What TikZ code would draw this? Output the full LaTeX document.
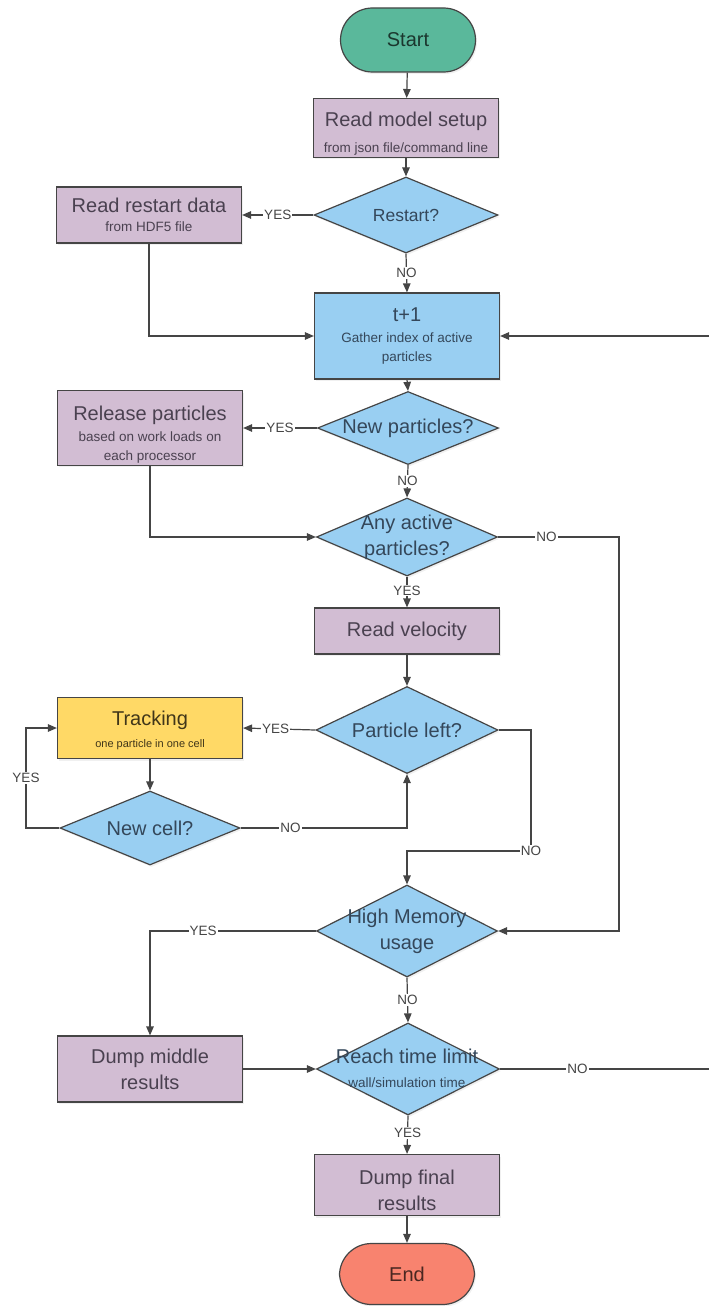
\documentclass[tikz,border=0pt]{standalone}
\usepackage{fontspec}
\setmainfont{Liberation Sans}
\usepackage{tikz}
\usetikzlibrary{shapes.geometric,positioning}
\usetikzlibrary{arrows.meta,shadows}

\definecolor{edgegray}{HTML}{454545}
\definecolor{txtgray}{HTML}{4A4150}
\definecolor{txtblue}{HTML}{34475A}
\definecolor{startteal}{HTML}{5AB89B}
\definecolor{boxlilac}{HTML}{D2BDD3}
\definecolor{decblue}{HTML}{99CFF2}
\definecolor{trackyel}{HTML}{FFD966}
\definecolor{endred}{HTML}{F8836F}

\newcommand{\bigtxt}{\fontsize{20}{26}\selectfont}
\newcommand{\smtxt}{\fontsize{13.5}{18}\selectfont}
\newcommand{\tinytxt}{\fontsize{11}{14}\selectfont}
\newcommand{\topgap}[1]{\rule{0pt}{#1}}

\tikzset{
  shape base/.style={draw=edgegray, line width=1.2pt, text=txtgray,
    drop shadow={opacity=0.12, shadow xshift=1.5pt, shadow yshift=-2pt}},
  terminal/.style={shape base, rectangle, rounded corners=32pt,
    minimum width=135pt, minimum height=64pt, font=\bigtxt},
  procbox/.style={shape base, rectangle, fill=boxlilac, minimum width=185pt,
    align=center, font=\smtxt, inner sep=2pt},
  decision/.style={shape base, diamond, fill=decblue, inner sep=0pt},
  dtext/.style={text=txtblue, align=center, font=\bigtxt, inner sep=0pt},
  lbl/.style={fill=white, text=edgegray, font=\smtxt, inner sep=1pt},
  conn/.style={draw=edgegray, line width=1.2pt},
}

\begin{document}
\begin{tikzpicture}[x=1pt,y=-1pt,>={Triangle[length=9pt,width=7.5pt]}]
\useasboundingbox (0,0) rectangle (709,1306);
% side turning points
\coordinate (lft) at (26,0);
\coordinate (rtA) at (619,0);
\coordinate (plk) at (531,851);
\coordinate (e1) at (709,336);
\coordinate (e2) at (709,1069);

% main column
\node[terminal, fill=startteal, text=startteal!30!black] (start) at (408,40) {Start};
\node[procbox, minimum height=57pt] (model) at (406,128)
  {{\bigtxt\topgap{26pt}Read model setup}\\[8pt]from json file/command line};
\node[decision, minimum width=184pt, minimum height=76pt] (restart) at (406,215) {};
\node[dtext, font=\fontsize{17.5}{22}\selectfont] (restartt) at (restart) {Restart?};
\node[procbox, fill=decblue, text=txtblue, minimum height=86pt] (t1) at (407,336)
  {{\bigtxt t+1}\\[3pt]Gather index of active\\[1pt]particles};
\node[decision, minimum width=181pt, minimum height=73pt] (np) at (408,428) {};
\node[dtext] (npt) at (np) {New particles?};
\node[decision, minimum width=181pt, minimum height=78pt] (any) at (407,537) {};
\node[dtext] (anyt) at (any) {Any active\\particles?};
\node[procbox, minimum height=46pt, font=\bigtxt] (vel) at (407,631) {Read velocity};
\node[decision, minimum width=182pt, minimum height=87pt] (pl) at (407,730) {};
\node[dtext] (plt) at (pl) {Particle left?};
\node[decision, minimum width=181pt, minimum height=92pt] (hm) at (407,931) {};
\node[dtext] (hmt) at (hm) {High Memory\\usage};
\node[decision, minimum width=183pt, minimum height=92pt] (rt) at (408,1069) {};
\node[dtext] (rtt) at (407,1068) {Reach time limit\\[-2pt]{\smtxt wall/simulation time}};
\node[procbox, minimum height=61pt, font=\bigtxt] (df) at (407,1185) {\topgap{25pt}Dump final\\results};
\node[terminal, fill=endred, text=endred!30!black, minimum height=61pt] (end) at (407,1274) {End};

% left column
\node[procbox, minimum height=56pt] (rdata) at (149,215)
  {{\bigtxt Read restart data}\\[1pt]from HDF5 file};
\node[procbox, minimum height=74pt] (release) at (150,428)
  {{\bigtxt\topgap{28pt}Release particles}\\[3pt]based on work loads on\\[1pt]each processor};
\node[procbox, fill=trackyel, text=trackyel!25!black, minimum height=61pt] (track) at (150,728)
  {{\bigtxt\topgap{19pt}Tracking}\\[4pt]{\tinytxt one particle in one cell}};
\node[decision, minimum width=180pt, minimum height=74pt] (nc) at (150,828) {};
\node[dtext] (nct) at (nc) {New cell?};
\node[procbox, minimum height=66pt, font=\bigtxt] (dm) at (150,1069) {Dump middle\\results};

% connectors
\draw[conn,->] (start) -- (model);
\draw[conn,->] (model) -- (restart);
\draw[conn,->] (restart.west) -- node[lbl]{YES} (rdata.east);
\draw[conn,->] (restart.south) -- node[lbl]{NO} (t1.north);
\draw[conn,->] (rdata.south) |- (t1.west);
\draw[conn,->] (e1) -- (t1.east);
\draw[conn,->] (t1.south) -- (np.north);
\draw[conn,->] (np.west) -- node[lbl]{YES} (release.east);
\draw[conn,->] (np.south) -- node[lbl]{NO} (any.north);
\draw[conn,->] (release.south) |- (any.west);
\draw[conn,->] (any.east) -- node[lbl,pos=.4]{NO} (any.east -| rtA) |- (hm.east);
\draw[conn,->] (any.south) -- node[lbl,pos=.45]{YES} (vel.north);
\draw[conn,->] (vel.south) -- (pl.north);
\draw[conn,->] (pl.west) -- node[lbl,pos=.55]{YES} (track.east);
\draw[conn,->] (track.south) -- (nc.north);
\draw[conn,->] (nc.west) -- (nc.west -| lft) |- node[lbl,pos=.25]{YES} (track.west);
\draw[conn,->] (nc.east) -| node[lbl,pos=.15]{NO} (pl.south);
\draw[conn,->] (pl.east) -| (plk) -| (hm.north);
\node[lbl] (plno) at (plk) {NO};
\draw[conn,->] (hm.west) -| node[lbl,pos=.34]{YES} (dm.north);
\draw[conn,->] (hm.south) -- node[lbl]{NO} (rt.north);
\draw[conn,->] (dm.east) -- (rt.west);
\draw[conn] (rt.east) -- node[lbl,pos=.37]{NO} (e2);
\draw[conn,->] (rt.south) -- node[lbl,pos=.45]{YES} (df.north);
\draw[conn,->] (df.south) -- (end.north);
\end{tikzpicture}
\end{document}
